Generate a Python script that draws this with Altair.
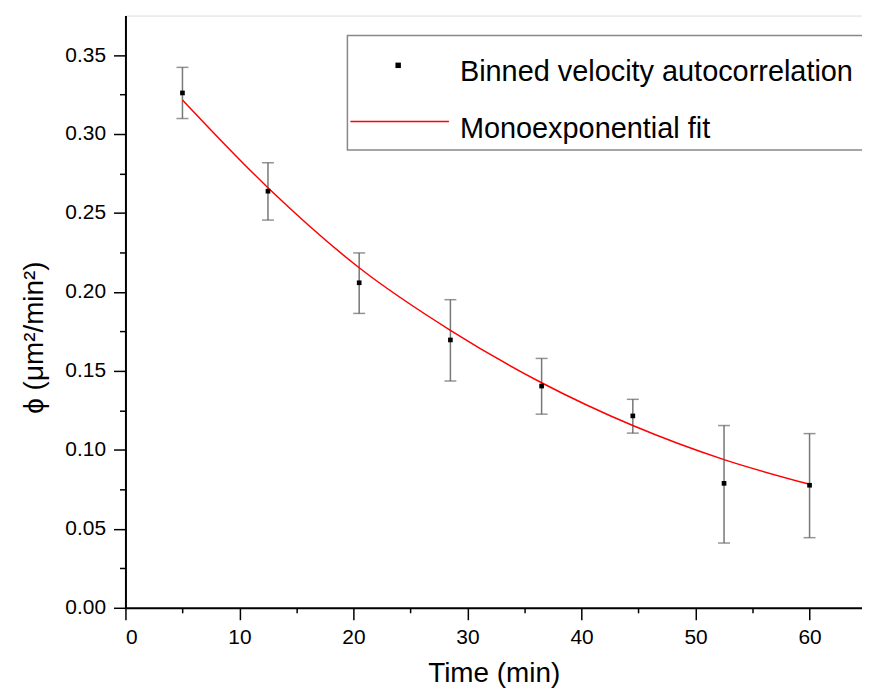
import altair as alt
import pandas as pd

# Binned velocity autocorrelation
time_min = [5, 12.5, 20.5, 28.5, 36.5, 44.5, 52.5, 60]
phi = [0.326, 0.2638, 0.2058, 0.1696, 0.1404, 0.1215, 0.0788, 0.0776]
err_hi = [0.3422, 0.2818, 0.2247, 0.1951, 0.1579, 0.1320, 0.1154, 0.1103]
err_lo = [0.3098, 0.2455, 0.1864, 0.1436, 0.1226, 0.1106, 0.0410, 0.0444]

# Monoexponential fit curve
fit_x = [5, 12.5, 20.5, 28.5, 36.5, 44.5, 52.5, 60]
fit_y = [0.3216, 0.2660, 0.2153, 0.1757, 0.1425, 0.1154, 0.0938, 0.0782]

legend_labels = ["Binned velocity autocorrelation", "Monoexponential fit"]

x_ticks = [0, 5, 10, 15, 20, 25, 30, 35, 40, 45, 50, 55, 60]
y_ticks = [round(i * 0.025, 3) for i in range(15)]

FONT = "Liberation Sans"

pts = pd.DataFrame({"t": time_min, "phi": phi, "hi": err_hi, "lo": err_lo})
fit = pd.DataFrame({"t": fit_x, "phi": fit_y})

xscale = alt.Scale(domain=[0, 64.6], nice=False, zero=False)
yscale = alt.Scale(domain=[0, 0.375], nice=False, zero=False)

xaxis = alt.Axis(
    values=x_ticks, title="Time (min)", grid=False,
    labelExpr="datum.value % 10 === 0 ? datum.label : ''",
    tickSize={"condition": {"test": "datum.value % 10 === 0", "value": 12}, "value": 5},
    tickColor="black", tickWidth=1.5, domainColor="black", domainWidth=2,
    labelFont=FONT, labelFontSize=21, labelColor="black", labelPadding=7,
    titleFont=FONT, titleFontSize=28, titleFontWeight="normal", titleColor="black",
    titlePadding=12,
)
yaxis = alt.Axis(
    values=y_ticks, title="ϕ (μm²/min²)", grid=False,
    labelExpr="abs(round(datum.value*20) - datum.value*20) < 0.001 ? format(datum.value, '.2f') : ''",
    tickSize={"condition": {"test": "abs(round(datum.value*20) - datum.value*20) < 0.001", "value": 12}, "value": 6},
    tickColor="black", tickWidth=1.5, domainColor="black", domainWidth=2,
    labelFont=FONT, labelFontSize=21, labelColor="black", labelPadding=8,
    titleFont=FONT, titleFontSize=28, titleFontWeight="normal", titleColor="black",
    titlePadding=16, titleY=323,
)

base = alt.Chart(pts)

bars = base.mark_rule(color="#777777", strokeWidth=1.5).encode(
    x=alt.X("t:Q", scale=xscale, axis=xaxis),
    y=alt.Y("lo:Q", scale=yscale, axis=yaxis),
    y2="hi:Q",
)
cap_hi = base.mark_tick(color="#666666", orient="horizontal", size=12, thickness=1.5).encode(
    x="t:Q", y="hi:Q")
cap_lo = base.mark_tick(color="#666666", orient="horizontal", size=12, thickness=1.5).encode(
    x="t:Q", y="lo:Q")

line = alt.Chart(fit).mark_line(color="#ff0000", strokeWidth=1.5, interpolate="monotone").encode(
    x="t:Q", y="phi:Q")

points = base.mark_square(color="black", size=22, opacity=1).encode(x="t:Q", y="phi:Q")

one = pd.DataFrame({"a": [0]})
leg_box = alt.Chart(one).mark_rect(fill="white", stroke="#888888", strokeWidth=1.5).encode(
    x=alt.value(223), x2=alt.value(742), y=alt.value(20), y2=alt.value(135))
leg_sq = alt.Chart(one).mark_square(color="black", size=30, opacity=1).encode(
    x=alt.value(274), y=alt.value(50))
leg_line = alt.Chart(one).mark_rule(color="#ff0000", strokeWidth=1.5).encode(
    x=alt.value(226), x2=alt.value(325), y=alt.value(106.5))
leg_t1 = alt.Chart(one).mark_text(text=legend_labels[0], font=FONT, fontSize=29, align="left",
                                  baseline="alphabetic", color="black").encode(
    x=alt.value(336), y=alt.value(66))
leg_t2 = alt.Chart(one).mark_text(text=legend_labels[1], font=FONT, fontSize=29, align="left",
                                  baseline="alphabetic", color="black").encode(
    x=alt.value(336), y=alt.value(123))

chart = alt.layer(bars, cap_hi, cap_lo, line, points,
                  leg_box, leg_sq, leg_line, leg_t1, leg_t2).properties(
    width=740, height=595,
    padding={"left": 118, "top": 6, "right": 0, "bottom": 83},
    autosize=alt.AutoSizeParams(type="none"),
).configure_view(stroke=None).configure(background="white")

chart.save("out.html", embed_options={"renderer": "svg", "actions": False})
